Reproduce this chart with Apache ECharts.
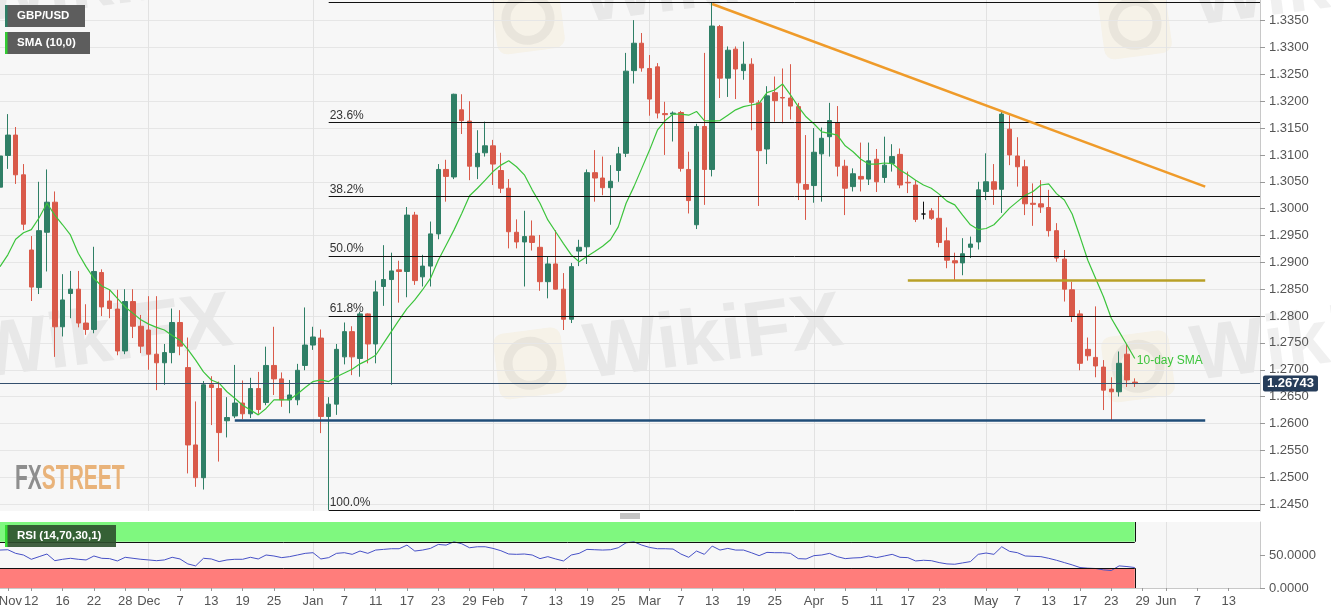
<!DOCTYPE html>
<html><head><meta charset="utf-8">
<script src="https://cdn.jsdelivr.net/npm/echarts@6/dist/echarts.min.js"></script>
<style>html,body{margin:0;padding:0;background:#fff}#c{width:1331px;height:615px}</style>
</head><body><div id="c"></div>
<script>
// ---------- DATA ----------
const startDate = '2018-11-06';
const categoryCount = 162;           // trading days shown on the x axis (incl. empty future)
// daily GBP/USD candles: [open, close, low, high]
const ohlc = [
[1.3040,1.3098,1.3025,1.3109],[1.3099,1.3137,1.3074,1.3176],[1.3137,1.3063,1.3046,1.3152],[1.3063,1.2971,1.2960,1.3083],
[1.2923,1.2854,1.2828,1.2949],[1.2853,1.2959,1.2841,1.3050],[1.2956,1.3012,1.2883,1.3073],[1.3012,1.2780,1.2724,1.3032],
[1.2780,1.2830,1.2762,1.2878],[1.2842,1.2850,1.2796,1.2884],[1.2850,1.2787,1.2779,1.2884],[1.2787,1.2775,1.2765,1.2822],
[1.2775,1.2883,1.2768,1.2929],[1.2881,1.2817,1.2800,1.2887],[1.2828,1.2814,1.2796,1.2849],[1.2813,1.2735,1.2727,1.2849],
[1.2735,1.2827,1.2729,1.2850],[1.2827,1.2781,1.2759,1.2850],[1.2781,1.2744,1.2731,1.2802],[1.2774,1.2729,1.2700,1.2837],
[1.2729,1.2713,1.2662,1.2837],[1.2713,1.2732,1.2672,1.2748],[1.2732,1.2788,1.2712,1.2814],[1.2788,1.2744,1.2727,1.2811],
[1.2704,1.2560,1.2507,1.2760],[1.2560,1.2499,1.2482,1.2641],[1.2499,1.2672,1.2477,1.2679],[1.2672,1.2667,1.2597,1.2688],
[1.2665,1.2583,1.2529,1.2678],[1.2605,1.2611,1.2574,1.2649],[1.2614,1.2638,1.2610,1.2709],[1.2638,1.2618,1.2608,1.2680],
[1.2618,1.2665,1.2610,1.2685],[1.2665,1.2626,1.2618,1.2696],[1.2639,1.2708,1.2634,1.2743],[1.2708,1.2683,1.2653,1.2780],
[1.2683,1.2644,1.2631,1.2695],[1.2644,1.2653,1.2619,1.2681],[1.2644,1.2699,1.2634,1.2711],[1.2708,1.2746,1.2699,1.2816],
[1.2746,1.2761,1.2737,1.2780],[1.2759,1.2613,1.2582,1.2775],[1.2613,1.2636,1.2439,1.2649],[1.2636,1.2738,1.2616,1.2748],
[1.2724,1.2771,1.2710,1.2788],[1.2771,1.2724,1.2690,1.2781],[1.2721,1.2804,1.2687,1.2808],[1.2804,1.2748,1.2712,1.2805],
[1.2748,1.2845,1.2712,1.2866],[1.2855,1.2868,1.2819,1.2932],[1.2868,1.2884,1.2672,1.2918],[1.2886,1.2883,1.2825,1.2903],
[1.2883,1.2988,1.2835,1.3003],[1.2988,1.2866,1.2858,1.2994],[1.2873,1.2893,1.2855,1.2914],[1.2893,1.2953,1.2855,1.2976],
[1.2953,1.3073,1.2943,1.3083],[1.3073,1.3060,1.3013,1.3091],[1.3059,1.3213,1.3055,1.3214],[1.3184,1.3164,1.3139,1.3213],
[1.3163,1.3079,1.3053,1.3200],[1.3078,1.3103,1.3055,1.3146],[1.3104,1.3117,1.3097,1.3162],[1.3117,1.3083,1.3044,1.3128],
[1.3071,1.3038,1.3029,1.3104],[1.3038,1.2957,1.2926,1.3055],[1.2956,1.2938,1.2926,1.2980],[1.2938,1.2948,1.2855,1.2996],
[1.2949,1.2937,1.2922,1.2978],[1.2928,1.2864,1.2847,1.2951],[1.2864,1.2897,1.2833,1.2911],[1.2897,1.2850,1.2849,1.2960],
[1.2850,1.2794,1.2774,1.2880],[1.2794,1.2892,1.2787,1.2899],[1.2921,1.2928,1.2893,1.2942],[1.2929,1.3067,1.2897,1.3073],
[1.3067,1.3057,1.3013,1.3109],[1.3057,1.3039,1.3025,1.3097],[1.3039,1.3051,1.2970,1.3081],[1.3071,1.3102,1.3050,1.3115],
[1.3103,1.3256,1.3096,1.3290],[1.3257,1.3308,1.3233,1.3351],[1.3308,1.3262,1.3255,1.3327],[1.3261,1.3204,1.3173,1.3286],
[1.3264,1.3178,1.3168,1.3271],[1.3177,1.3175,1.3100,1.3199],[1.3176,1.3178,1.3125,1.3181],[1.3179,1.3075,1.3069,1.3182],
[1.3073,1.3015,1.2991,1.3106],[1.2970,1.3153,1.2962,1.3158],[1.3153,1.3073,1.3007,1.3290],[1.3073,1.3340,1.3060,1.3384],
[1.3339,1.3243,1.3206,1.3342],[1.3243,1.3295,1.3208,1.3302],[1.3297,1.3260,1.3204,1.3302],[1.3257,1.3269,1.3240,1.3311],
[1.3269,1.3198,1.3146,1.3280],[1.3197,1.3108,1.3005,1.3202],[1.3111,1.3210,1.3083,1.3228],[1.3216,1.3201,1.3162,1.3246],
[1.3207,1.3206,1.3159,1.3261],[1.3206,1.3191,1.3166,1.3269],[1.3190,1.3048,1.3016,1.3197],[1.3045,1.3036,1.2979,1.3137],
[1.3043,1.3105,1.3011,1.3150],[1.3102,1.3131,1.3013,1.3151],[1.3134,1.3164,1.3097,1.3197],[1.3160,1.3079,1.3060,1.3191],
[1.3079,1.3038,1.2988,1.3091],[1.3041,1.3065,1.3032,1.3075],[1.3060,1.3055,1.3032,1.3123],[1.3055,1.3089,1.3044,1.3123],
[1.3092,1.3050,1.3031,1.3111],[1.3058,1.3081,1.3048,1.3134],[1.3084,1.3097,1.3069,1.3120],[1.3101,1.3044,1.3038,1.3112],
[1.3049,1.3048,1.3029,1.3069],[1.3044,1.2980,1.2975,1.3053],[1.2990,1.2990,1.2980,1.3013],[1.2996,1.2982,1.2979,1.3001],
[1.2982,1.2937,1.2928,1.3022],[1.2940,1.2904,1.2889,1.2965],[1.2903,1.2899,1.2867,1.2918],[1.2899,1.2916,1.2876,1.2945],
[1.2928,1.2934,1.2908,1.2948],[1.2938,1.3035,1.2924,1.3050],[1.3032,1.3050,1.3016,1.3103],[1.3050,1.3036,1.3007,1.3083],
[1.3036,1.3176,1.2992,1.3181],[1.3148,1.3100,1.3081,1.3174],[1.3098,1.3078,1.3041,1.3133],[1.3078,1.3009,1.2988,1.3091],
[1.3010,1.3008,1.2968,1.3047],[1.3009,1.3003,1.2992,1.3053],[1.3002,1.2959,1.2948,1.3035],[1.2959,1.2908,1.2901,1.2973],
[1.2906,1.2850,1.2827,1.2923],[1.2849,1.2800,1.2789,1.2864],[1.2804,1.2712,1.2699,1.2811],[1.2738,1.2726,1.2717,1.2760],
[1.2723,1.2707,1.2686,1.2818],[1.2705,1.2662,1.2625,1.2718],[1.2664,1.2659,1.2606,1.2686],[1.2659,1.2712,1.2650,1.2734],
[1.2729,1.2681,1.2668,1.2748],[1.2677,1.26743,1.2668,1.2684]
];
// SMA(10) line as drawn
const sma10 = [
1.2892,1.2914,1.2943,1.2955,1.2961,1.2983,1.3010,1.2988,1.2970,1.2951,
1.2917,1.2892,1.2870,1.2856,1.2849,1.2833,1.2817,1.2805,1.2793,1.2785,
1.2779,1.2774,1.2764,1.2755,1.2738,1.2718,1.2696,1.2681,1.2675,1.2659,
1.2647,1.2634,1.2625,1.2616,1.2628,1.2644,1.2644,1.2644,1.2655,1.2667,
1.2678,1.2681,1.2678,1.2687,1.2694,1.2701,1.2711,1.2718,1.2727,1.2749,
1.2771,1.2793,1.2814,1.2830,1.2849,1.2870,1.2904,1.2932,1.2960,1.2991,
1.3024,1.3038,1.3053,1.3069,1.3081,1.3089,1.3078,1.3063,1.3035,1.3010,
1.2979,1.2957,1.2935,1.2914,1.2901,1.2911,1.2920,1.2930,1.2942,1.2966,
1.3010,1.3041,1.3075,1.3109,1.3146,1.3164,1.3176,1.3176,1.3174,1.3181,
1.3164,1.3163,1.3164,1.3174,1.3184,1.3190,1.3193,1.3196,1.3216,1.3221,
1.3232,1.3212,1.3190,1.3171,1.3158,1.3143,1.3140,1.3137,1.3117,1.3106,
1.3092,1.3083,1.3083,1.3085,1.3084,1.3072,1.3063,1.3053,1.3044,1.3038,
1.3027,1.3014,1.3007,1.2988,1.2970,1.2961,1.2963,1.2970,1.2985,1.3001,
1.3013,1.3025,1.3032,1.3044,1.3046,1.3028,1.3016,1.2990,1.2948,1.2904,
1.2870,1.2836,1.2796,1.2771,1.2746,1.2721
];
// RSI(14)
const rsi14 = [
57.5,58,52.5,50,43.5,47.5,51.5,41.4,43.5,45,
43.5,42.5,48.5,45,44.5,41,46.5,45,43.5,42.5,
41.4,42.5,46.5,44,36.5,33.5,45,44,40,42.5,
43.5,43.5,46.5,44,50,48.5,46,47.5,50,52.5,
53.5,44,46,52.5,53.5,51,56,52.5,57.5,58.5,
59.5,59.5,65,56,57.5,60,66,65,70,67,
61,62.5,62.5,60,56.5,51.5,51,51.5,50,44.5,
47.5,44,41,50,52.5,58.5,58,57.5,58,61,
68.5,70,65,61.5,59.5,59.5,59,51.5,46.5,56,
51,63.5,57.5,60,57.5,57.5,53.5,49,54,53.5,
53.5,52.5,44.5,44,49,50,52.5,47.5,44.5,45.5,
46,48.5,46,48.5,51,46.5,46,41,42,41.4,
38.5,36.5,36,38,40,51,53,51,62.5,55.5,
53.5,48.5,48,47.5,45,42,38.5,35,31,30,
29.5,27.5,26.5,33.5,32.5,31
];
const priceTicks = [1.2450,1.2500,1.2550,1.2600,1.2650,1.2700,1.2750,1.2800,1.2850,1.2900,1.2950,1.3000,1.3050,1.3100,1.3150,1.3200,1.3250,1.3300,1.3350];
const rsiTicks = [0, 50];
const rsiBands = [30, 70];
const tickDates = ['2018-11-07','2018-11-12','2018-11-16','2018-11-22','2018-11-28','2018-12-03','2018-12-07','2018-12-13','2018-12-19','2018-12-25',
  '2019-01-01','2019-01-07','2019-01-11','2019-01-17','2019-01-23','2019-01-29','2019-02-01','2019-02-07','2019-02-13','2019-02-19','2019-02-25',
  '2019-03-01','2019-03-07','2019-03-13','2019-03-19','2019-03-25','2019-04-01','2019-04-05','2019-04-11','2019-04-17','2019-04-23',
  '2019-05-01','2019-05-07','2019-05-13','2019-05-17','2019-05-23','2019-05-29','2019-06-03','2019-06-07','2019-06-13'];
const tickLabels = ['Nov','12','16','22','28','Dec','7','13','19','25',
  'Jan','7','11','17','23','29','Feb','7','13','19','25',
  'Mar','7','13','19','25','Apr','5','11','17','23',
  'May','7','13','17','23','29','Jun','7','13'];
const monthStarts = ['2018-12-03','2019-01-01','2019-02-01','2019-03-01','2019-04-01','2019-05-01','2019-06-03'];
const fibHigh = 1.3384, fibLow = 1.2439, fibStartDate = '2019-01-03';
const fibLevels = [0, 23.6, 38.2, 50, 61.8, 100];
const lastPrice = 1.26743;
const trendLine = [['2019-03-13', 1.3381], ['2019-06-10', 1.3041]];
const resistanceLine = [['2019-04-17', 1.2867], ['2019-06-10', 1.2867]];
const supportLine = [['2018-12-18', 1.2606], ['2019-06-10', 1.2606]];

// ---------- BUILD ----------
function weekdays(start, n) {
  const out = []; const d = new Date(start + 'T00:00:00Z');
  while (out.length < n) {
    const w = d.getUTCDay();
    if (w !== 0 && w !== 6) out.push(d.toISOString().slice(0, 10));
    d.setUTCDate(d.getUTCDate() + 1);
  }
  return out;
}
const dates = weekdays(startDate, categoryCount);
const lastDate = dates[dates.length - 1];
const lastIdx = ohlc.length - 1;
const labelMap = {}; tickDates.forEach((d, i) => labelMap[d] = tickLabels[i]);
const monthSet = new Set(monthStarts);

const GREEN = '#2f7f66', RED = '#d95a4a', FONT = 'Liberation Sans, Arial, sans-serif';

const fibLines = fibLevels.map(l => {
  const p = fibHigh - (fibHigh - fibLow) * l / 100;
  return [{ coord: [fibStartDate, p], lineStyle: { color: '#111', width: 1, type: 'solid' },
            label: { show: true, position: 'insideStartTop', formatter: l.toFixed(1) + '%', color: '#333', fontSize: 12, fontFamily: FONT, distance: 1 } },
          { coord: [lastDate, p] }];
});
function seg(pair, color, width) {
  return [{ coord: pair[0], lineStyle: { color, width, type: 'solid' }, label: { show: false } }, { coord: pair[1] }];
}

const chart = echarts.init(document.getElementById('c'));
const wmText = (x, y) => ({ type: 'text', x, y, rotation: 0.13, silent: true, z: 0,
  style: { text: 'WikiFX', font: 'bold 78px ' + FONT, fill: 'rgba(110,110,110,0.10)' } });
const wmLogo = (x, y) => ({ type: 'group', x, y, rotation: 0.13, silent: true, z: 0, children: [
  { type: 'rect', z: 0, shape: { x: 0, y: 0, width: 68, height: 66, r: 10 }, style: { fill: 'rgba(240,205,120,0.12)' } },
  { type: 'circle', z: 0, shape: { cx: 34, cy: 33, r: 22 }, style: { fill: 'none', stroke: 'rgba(120,120,120,0.10)', lineWidth: 9 } }
] });
const box = (x, y, w, fill, bar, text) => ({ type: 'group', x, y, silent: true, children: [
  { type: 'rect', z: 100, shape: { x: 0, y: 0, width: w, height: 22 }, style: { fill } },
  { type: 'rect', z: 101, shape: { x: 0, y: 0, width: 2.5, height: 22 }, style: { fill: bar } },
  { type: 'text', z: 102, x: 12, y: 11, style: { text, font: 'bold 11.5px ' + FONT, fill: '#fff', verticalAlign: 'middle' } } ] });

chart.setOption({
  animation: false,
  backgroundColor: '#ffffff',
  grid: [
    { left: 0, right: 71, top: 0, height: 511, show: true, backgroundColor: '#f7f7f7', borderWidth: 0, outerBoundsMode: 'none', containLabel: false },
    { left: 0, right: 71, top: 522, height: 66, show: true, backgroundColor: '#f7f7f7', borderWidth: 0, outerBoundsMode: 'none', containLabel: false }
  ],
  xAxis: [
    { type: 'category', gridIndex: 0, data: dates, boundaryGap: false,
      axisLabel: { show: false }, axisTick: { show: false }, axisLine: { show: false },
      splitLine: { show: true, interval: (i, v) => monthSet.has(v), lineStyle: { color: '#e2e2e2' } } },
    { type: 'category', gridIndex: 1, data: dates, boundaryGap: false,
      axisLine: { lineStyle: { color: '#c8c8c8' } },
      axisTick: { show: true, interval: (i, v) => v in labelMap, length: 3, lineStyle: { color: '#999' } },
      axisLabel: { interval: (i, v) => v in labelMap,
        formatter: (v, i) => i === 1 ? '{first|' + labelMap[v] + '}' : (labelMap[v] || ''),
        rich: { first: { padding: [0, 0, 0, 5], color: '#555', fontSize: 13, fontFamily: FONT } },
        color: '#555', fontSize: 13, fontFamily: FONT, margin: 7, showMinLabel: true },
      splitLine: { show: true, interval: (i, v) => monthSet.has(v), lineStyle: { color: '#e2e2e2' } } }
  ],
  yAxis: [
    { type: 'value', gridIndex: 0, position: 'right', min: 1.2437, max: 1.33885,
      axisLine: { show: true, lineStyle: { color: '#c8c8c8' } },
      axisTick: { show: true, customValues: priceTicks, length: 5, lineStyle: { color: '#999' } },
      axisLabel: { customValues: priceTicks, formatter: v => v.toFixed(4), color: '#555', fontSize: 13, fontFamily: FONT, margin: 9 },
      splitLine: { show: true, lineStyle: { color: '#e6e6e6' } } },
    { type: 'value', gridIndex: 1, position: 'right', min: 0, max: 100,
      axisLine: { show: true, lineStyle: { color: '#c8c8c8' } },
      axisTick: { show: true, customValues: rsiTicks, length: 5, lineStyle: { color: '#999' } },
      axisLabel: { customValues: rsiTicks, formatter: v => v.toFixed(4), color: '#555', fontSize: 13, fontFamily: FONT, margin: 9 },
      splitLine: { show: false } }
  ],
  series: [
    { type: 'candlestick', xAxisIndex: 0, yAxisIndex: 0, data: ohlc, barWidth: 5, z: 3,
      itemStyle: { color: GREEN, color0: RED, borderColor: GREEN, borderColor0: RED, borderColorDoji: '#111', borderWidth: 1 },
      markLine: { silent: true, symbol: ['none', 'none'], animation: false, precision: 5,
        data: [
          ...fibLines,
          seg(trendLine, '#ef9b2a', 2.5),
          seg(resistanceLine, '#b9a027', 2.5),
          seg(supportLine, '#1f4d78', 2.5),
          { yAxis: lastPrice, lineStyle: { color: '#34506e', width: 1, type: 'solid' },
            label: { show: true, position: 'end', distance: 3, formatter: lastPrice.toFixed(5), color: '#fff', fontWeight: 'bold', fontSize: 13, fontFamily: FONT,
                     backgroundColor: '#263d5a', padding: [2, 4, 1, 4], borderRadius: 2 } }
        ] } },
    { type: 'line', name: 'SMA (10,0)', xAxisIndex: 0, yAxisIndex: 0, data: sma10, showSymbol: false, symbol: 'none', z: 4,
      lineStyle: { color: '#3cc43c', width: 1.2 }, itemStyle: { color: '#3cc43c' },
      endLabel: { show: true, formatter: '10-day SMA', color: '#3cc43c', fontSize: 12, fontFamily: FONT, distance: 2, offset: [0, 2] } },
    { type: 'line', name: 'RSI', xAxisIndex: 1, yAxisIndex: 1, data: rsi14, showSymbol: false, symbol: 'none', z: 4,
      lineStyle: { color: '#4650c6', width: 1 },
      markArea: { silent: true, data: [
        [{ xAxis: 0, yAxis: rsiBands[1], itemStyle: { color: '#7ff87f', borderWidth: 0 } }, { xAxis: lastIdx, yAxis: 100 }],
        [{ xAxis: 0, yAxis: 0, itemStyle: { color: '#ff7d7b', borderWidth: 0 } }, { xAxis: lastIdx, yAxis: rsiBands[0] }]
      ] },
      markLine: { silent: true, symbol: ['none', 'none'], label: { show: false }, lineStyle: { color: '#111', width: 1, type: 'solid' },
        data: [
          [{ coord: [0, rsiBands[1]] }, { coord: [lastIdx, rsiBands[1]] }],
          [{ coord: [0, rsiBands[0]] }, { coord: [lastIdx, rsiBands[0]] }],
          [{ coord: [lastIdx, rsiBands[1]] }, { coord: [lastIdx, 100] }],
          [{ coord: [lastIdx, 0] }, { coord: [lastIdx, rsiBands[0]] }]
        ] } }
  ],
  graphic: [
    wmLogo(-110, 0), wmText(-30, -38), wmLogo(490, -10), wmText(577, -38), wmLogo(1097, -5), wmText(1187, -35),
    wmLogo(-110, 335), wmText(-30, 318), wmLogo(492, 335), wmText(580, 318), wmLogo(1100, 338), wmText(1187, 320),
    { type: 'text', x: 15, y: 462, silent: true, scaleX: 0.6, z: 10,
      style: { text: '{a|FX}{b|STREET}', rich: {
        a: { font: 'bold 35px "Liberation Sans Narrow", "Liberation Sans", sans-serif', fill: '#8e8e8e' },
        b: { font: 'bold 35px "Liberation Sans Narrow", "Liberation Sans", sans-serif', fill: '#e9b37a' } } } },
    box(5, 5, 80, '#5d5d5d', '#2f7f66', 'GBP/USD'),
    box(5, 32, 85, '#5d5d5d', '#33cc33', 'SMA (10,0)'),
    box(5, 525, 111, 'rgba(45,80,45,0.9)', '#33dd33', 'RSI (14,70,30,1)'),
    { type: 'group', x: 620, y: 514, silent: true, children: [
      { type: 'line', shape: { x1: 0, y1: 0, x2: 20, y2: 0 }, style: { stroke: '#888', lineWidth: 1 } },
      { type: 'line', shape: { x1: 0, y1: 2, x2: 20, y2: 2 }, style: { stroke: '#888', lineWidth: 1 } },
      { type: 'line', shape: { x1: 0, y1: 4, x2: 20, y2: 4 }, style: { stroke: '#888', lineWidth: 1 } } ] }
  ]
});
</script></body></html>
